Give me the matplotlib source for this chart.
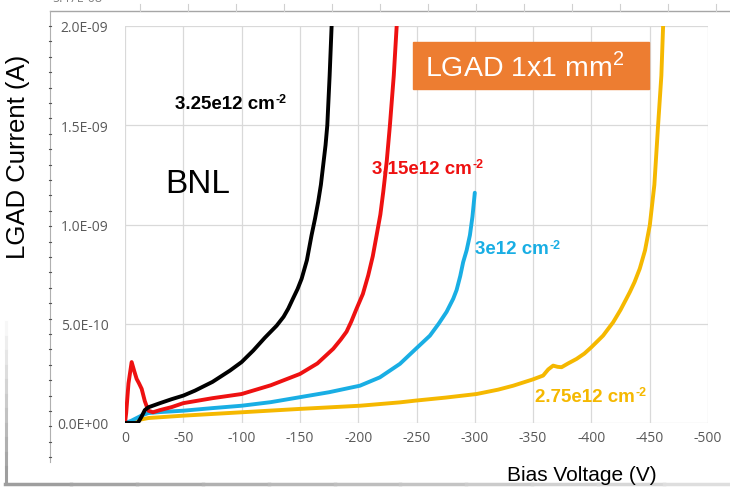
import numpy as np
import matplotlib
matplotlib.use('Agg')
import matplotlib.pyplot as plt
from matplotlib.patches import Rectangle
from matplotlib.lines import Line2D

plt.rcParams['axes.unicode_minus'] = False
plt.rcParams['mathtext.fontset'] = 'custom'
plt.rcParams['mathtext.rm'] = 'Liberation Sans'

# I-V curves, bias in V, current in nA
v_325 = [0, -5, -11, -14, -17, -20, -30, -40, -50, -60, -75, -90, -100, -110, -120, -130,
         -136, -140, -144, -148, -151.5, -156, -160, -163, -165.7, -168, -170, -172, -173.5,
         -175.5, -177.2, -178]
i_325 = [0, 0, 0, 0.03, 0.065, 0.079, 0.10, 0.12, 0.138, 0.163, 0.207, 0.264, 0.307, 0.365, 0.43, 0.49,
         0.535, 0.576, 0.626, 0.675, 0.727, 0.82, 0.946, 1.03, 1.115, 1.2, 1.3, 1.4, 1.5,
         1.75, 2.0, 2.1]

v_315 = [0, -1, -3, -5.7, -8, -10, -12, -14.3, -17, -20, -24, -30, -40, -50, -60, -75, -100,
         -125, -150, -165, -178.6, -185, -190, -194, -198.6, -204, -208.6, -212.5, -215.8, -219,
         -221.5, -224.5, -227.2, -230.5, -233, -233.8]
i_315 = [0, 0.05, 0.2, 0.307, 0.26, 0.222, 0.20, 0.172, 0.11, 0.062, 0.054, 0.065, 0.08, 0.10, 0.11, 0.125, 0.146,
         0.19, 0.247, 0.30, 0.374, 0.42, 0.46, 0.51, 0.576, 0.65, 0.744, 0.84, 0.946, 1.05,
         1.165, 1.32, 1.5, 1.75, 2.0, 2.1]

v_300 = [0, -5, -10, -15, -20, -30, -50, -75, -100, -125, -150, -175, -201.5, -218.6, -235.8,
         -249.5, -261.5, -269, -275.8, -281.5, -284.4, -287.5, -290, -293, -295.8, -298, -300]
i_300 = [0, 0.01, 0.025, 0.04, 0.05, 0.055, 0.062, 0.075, 0.087, 0.105, 0.13, 0.155, 0.188, 0.23, 0.298,
         0.374, 0.44, 0.5, 0.56, 0.626, 0.67, 0.74, 0.81, 0.87, 0.946, 1.04, 1.16]

v_275 = [0, -7, -20, -50, -100, -150, -201.5, -235.8, -249.5, -275, -301.5, -320, -333, -350, -358.6, -363,
         -367.2, -371, -374.4, -380, -387.3, -394, -400, -410, -418.7, -425, -430, -433, -437, -441.5,
         -446, -450.1, -454, -457.2, -460, -461.5, -462]
i_275 = [0, 0.01, 0.025, 0.037, 0.054, 0.071, 0.087, 0.104, 0.113, 0.128, 0.146, 0.168, 0.188, 0.22, 0.239, 0.27,
         0.289, 0.283, 0.281, 0.30, 0.323, 0.35, 0.382, 0.44, 0.508, 0.57, 0.626, 0.66, 0.71, 0.778,
         0.87, 0.997, 1.2, 1.5, 1.75, 2.0, 2.1]

x_ticks = [0, -50, -100, -150, -200, -250, -300, -350, -400, -450, -500]
y_ticks = [0, 5e-10, 1e-9, 1.5e-9, 2e-9]
y_labels = ['0.0E+00', '5.0E-10', '1.0E-09', '1.5E-09', '2.0E-09']

fig = plt.figure(figsize=(7.3, 4.89), dpi=100)
ax = fig.add_axes([125 / 730, 65 / 489, 583 / 730, 397 / 489])

nA = 1e-9
line_kw = dict(lw=2.8, solid_capstyle='round', solid_joinstyle='round')
ax.plot(v_275, np.array(i_275) * nA, color='#f5b800', **line_kw)
ax.plot(v_300, np.array(i_300) * nA, color='#19aee4', **line_kw)
ax.plot(v_315, np.array(i_315) * nA, color='#ee1111', **line_kw)
ax.plot(v_325, np.array(i_325) * nA, color='#000000', **line_kw)

ax.set_xlim(0, -500)
ax.set_ylim(0, 2e-9)
ax.set_xticks(x_ticks)
ax.set_xticklabels([str(t) for t in x_ticks])
ax.set_yticks(y_ticks)
ax.set_yticklabels(y_labels)
ax.tick_params(axis='both', length=0, labelsize=10, labelcolor='#595959')
ax.tick_params(axis='x', pad=5)
ax.tick_params(axis='y', pad=12)
for lab in ax.get_xticklabels() + ax.get_yticklabels():
    lab.set_family('Open Sans')
ax.grid(True, color='#d9d9d9', lw=0.9)
for s in ax.spines.values():
    s.set_visible(False)
ax.set_axisbelow(True)


def dose_label(x, y, base, color):
    t = ax.text(x, y, base, color=color, fontsize=13.5, fontweight='bold',
                family='Liberation Sans', va='center', ha='left')
    ax.annotate('-2', xy=(1, 1), xycoords=t, xytext=(0.5, 1), textcoords='offset points',
                color=color, fontsize=9, fontweight='bold', family='Liberation Sans',
                va='top', ha='left')


# curve labels
dose_label(-42.9, 1.611e-9, '3.25e12 cm', '#000000')
dose_label(-211.8, 1.283e-9, '3.15e12 cm', '#ee1111')
dose_label(-300, 0.879e-9, '3e12 cm', '#19aee4')
dose_label(-351.5, 0.136e-9, '2.75e12 cm', '#f5b800')
ax.text(-34.3, 1.207e-9, 'BNL', fontsize=24, family='Liberation Sans', va='center', ha='left')

# device box
fig.patches.append(Rectangle((413 / 730, 399 / 489), 236 / 730, 47 / 489,
                             transform=fig.transFigure, color='#ed7d31', zorder=5))
fig.text(425 / 730, 1 - 67 / 489, r'LGAD 1x1 mm$^{2}$', color='white', fontsize=20.5,
         family='Liberation Sans', va='center', ha='left', zorder=6)

# axis titles
fig.text(18 / 730, 1 - 157 / 489, 'LGAD Current (A)', rotation=90, fontsize=18.5,
         family='Liberation Sans', va='center', ha='center')
fig.text(582 / 730, 1 - 476 / 489, 'Bias Voltage (V)', fontsize=15,
         family='Liberation Sans', va='center', ha='center')

# remains of the frame behind the chart
fig.lines.append(Line2D([50 / 730, 1], [1 - 12 / 489] * 2, transform=fig.transFigure,
                        color='#a6a6a6', lw=1.0))
for px in np.arange(140, 730, 48):
    fig.lines.append(Line2D([px / 730] * 2, [1 - 5 / 489, 1 - 12 / 489], transform=fig.transFigure,
                            color='#d0d0d0', lw=0.8))
fig.lines.append(Line2D([50 / 730] * 2, [1 - 12 / 489, 1 - 463 / 489], transform=fig.transFigure,
                        color='#b0b0b0', lw=0.8))
for py in np.arange(27, 463, 15.4):
    fig.lines.append(Line2D([49 / 730, 51 / 730], [1 - py / 489] * 2, transform=fig.transFigure,
                            color='#555555', lw=0.8))
fig.text(52 / 730, 1 + 1 / 489, '5.47E-08', fontsize=9, color='#808080', family='Open Sans',
         va='center', ha='left')

# slide border, fading towards the top
for k, py in enumerate(np.linspace(323, 483, 12)[:-1]):
    shade = 0.97 - 0.35 * k / 10
    fig.lines.append(Line2D([6 / 730] * 2, [1 - py / 489, 1 - (py + 160 / 11) / 489],
                            transform=fig.transFigure, color=(shade, shade, shade), lw=2.2))
for k, px in enumerate(np.linspace(5, 730, 12)[:-1]):
    shade = 0.62 + 0.25 * k / 10
    fig.lines.append(Line2D([px / 730, (px + 725 / 11) / 730], [1 - 485 / 489] * 2,
                            transform=fig.transFigure, color=(shade, shade, shade), lw=2.5))

fig.savefig('out.png', dpi=100)
